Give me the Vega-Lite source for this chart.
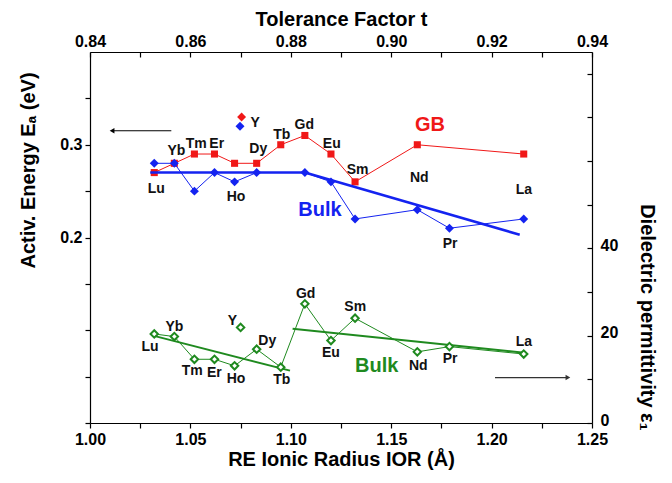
{
  "$schema": "https://vega.github.io/schema/vega-lite/v6.json",
  "autosize": "none",
  "width": 502,
  "height": 371,
  "padding": {"left": 90, "top": 52, "right": 80, "bottom": 60},
  "background": "white",
  "config": {
    "view": {"stroke": null},
    "font": "Liberation Sans",
    "axis": {
      "grid": false,
      "domainColor": "black",
      "domainWidth": 1.2,
      "tickColor": "black",
      "tickWidth": 1.2,
      "tickSize": 5,
      "labelFont": "Liberation Sans",
      "labelFontWeight": "bold",
      "labelFontSize": 16,
      "labelColor": "black",
      "titleFont": "Liberation Sans",
      "titleFontWeight": "bold",
      "titleFontSize": 20,
      "titleColor": "black",
      "labelFlush": false,
      "labelOverlap": false,
      "labelBound": false
    }
  },
  "datasets": {
    "gb": [
      {"re": "Lu", "ior": 1.032, "ea": 0.27},
      {"re": "Yb", "ior": 1.042, "ea": 0.28},
      {"re": "Tm", "ior": 1.052, "ea": 0.29},
      {"re": "Er", "ior": 1.062, "ea": 0.29},
      {"re": "Ho", "ior": 1.072, "ea": 0.28},
      {"re": "Dy", "ior": 1.083, "ea": 0.28},
      {"re": "Tb", "ior": 1.095, "ea": 0.30},
      {"re": "Gd", "ior": 1.107, "ea": 0.31},
      {"re": "Eu", "ior": 1.120, "ea": 0.29},
      {"re": "Sm", "ior": 1.132, "ea": 0.26},
      {"re": "Nd", "ior": 1.163, "ea": 0.30},
      {"re": "La", "ior": 1.216, "ea": 0.29}
    ],
    "bulkEA": [
      {"re": "Lu", "ior": 1.032, "ea": 0.28},
      {"re": "Yb", "ior": 1.042, "ea": 0.28},
      {"re": "Tm", "ior": 1.052, "ea": 0.25},
      {"re": "Er", "ior": 1.062, "ea": 0.27},
      {"re": "Ho", "ior": 1.072, "ea": 0.26},
      {"re": "Dy", "ior": 1.083, "ea": 0.27},
      {"re": "Gd", "ior": 1.107, "ea": 0.27},
      {"re": "Eu", "ior": 1.120, "ea": 0.26},
      {"re": "Sm", "ior": 1.132, "ea": 0.22},
      {"re": "Nd", "ior": 1.163, "ea": 0.23},
      {"re": "Pr", "ior": 1.179, "ea": 0.21},
      {"re": "La", "ior": 1.216, "ea": 0.22}
    ],
    "fitEA": [
      {"seg": 1, "ior": 1.030, "ea": 0.27},
      {"seg": 1, "ior": 1.107, "ea": 0.27},
      {"seg": 2, "ior": 1.107, "ea": 0.27},
      {"seg": 2, "ior": 1.214, "ea": 0.203}
    ],
    "yEA": [
      {"series": "GB", "ior": 1.0755, "ea": 0.33},
      {"series": "Bulk", "ior": 1.0747, "ea": 0.32}
    ],
    "labelsEA": [
      {"label": "Lu", "ior": 1.033, "ea": 0.2526},
      {"label": "Yb", "ior": 1.043, "ea": 0.2928},
      {"label": "Tm", "ior": 1.0529, "ea": 0.3006},
      {"label": "Er", "ior": 1.0631, "ea": 0.3006},
      {"label": "Ho", "ior": 1.0727, "ea": 0.2435},
      {"label": "Dy", "ior": 1.0838, "ea": 0.2953},
      {"label": "Tb", "ior": 1.0955, "ea": 0.3108},
      {"label": "Gd", "ior": 1.1067, "ea": 0.3208},
      {"label": "Eu", "ior": 1.1204, "ea": 0.3011},
      {"label": "Sm", "ior": 1.1333, "ea": 0.273},
      {"label": "Nd", "ior": 1.164, "ea": 0.264},
      {"label": "La", "ior": 1.2161, "ea": 0.2507},
      {"label": "Pr", "ior": 1.1793, "ea": 0.1933},
      {"label": "Y", "ior": 1.0822, "ea": 0.3233}
    ],
    "seriesLabels": [
      {"label": "GB", "series": "GB", "ior": 1.1693, "ea": 0.3208},
      {"label": "Bulk", "series": "Bulk", "ior": 1.1145, "ea": 0.2299}
    ],
    "arrowEA": [
      {"ior": 1.011, "ior2": 1.0405, "ea": 0.3151}
    ],
    "bulkEps": [
      {"re": "Lu", "ior": 1.032, "eps": 20.4},
      {"re": "Yb", "ior": 1.042, "eps": 19.8},
      {"re": "Tm", "ior": 1.052, "eps": 14.6},
      {"re": "Er", "ior": 1.062, "eps": 14.6},
      {"re": "Ho", "ior": 1.072, "eps": 13.1},
      {"re": "Dy", "ior": 1.083, "eps": 16.9},
      {"re": "Tb", "ior": 1.095, "eps": 12.8},
      {"re": "Gd", "ior": 1.107, "eps": 27.3},
      {"re": "Eu", "ior": 1.120, "eps": 18.9},
      {"re": "Sm", "ior": 1.132, "eps": 24.0},
      {"re": "Nd", "ior": 1.163, "eps": 16.3},
      {"re": "Pr", "ior": 1.179, "eps": 17.5},
      {"re": "La", "ior": 1.216, "eps": 15.8}
    ],
    "yEps": [
      {"re": "Y", "ior": 1.075, "eps": 21.9}
    ],
    "fitEps": [
      {"seg": 1, "ior": 1.0324, "eps": 19.9},
      {"seg": 1, "ior": 1.0996, "eps": 12.0},
      {"seg": 2, "ior": 1.1009, "eps": 21.6},
      {"seg": 2, "ior": 1.2161, "eps": 16.1}
    ],
    "labelsEps": [
      {"label": "Lu", "ior": 1.0299, "eps": 17.3},
      {"label": "Yb", "ior": 1.042, "eps": 21.9},
      {"label": "Tm", "ior": 1.0509, "eps": 11.9},
      {"label": "Er", "ior": 1.0619, "eps": 11.4},
      {"label": "Ho", "ior": 1.0727, "eps": 10.1},
      {"label": "Dy", "ior": 1.0883, "eps": 18.9},
      {"label": "Tb", "ior": 1.0955, "eps": 9.85},
      {"label": "Gd", "ior": 1.1074, "eps": 29.6},
      {"label": "Eu", "ior": 1.12, "eps": 16.1},
      {"label": "Sm", "ior": 1.1321, "eps": 26.6},
      {"label": "Y", "ior": 1.0709, "eps": 23.4},
      {"label": "Nd", "ior": 1.1635, "eps": 13.1},
      {"label": "Pr", "ior": 1.1793, "eps": 14.6},
      {"label": "La", "ior": 1.2161, "eps": 18.6}
    ],
    "bulkLabelEps": [
      {"label": "Bulk", "ior": 1.1428, "eps": 13.1}
    ],
    "arrowEps": [
      {"ior": 1.2017, "ior2": 1.238, "eps": 10.4}
    ],
    "tol": [
      {"t": 0.84},
      {"t": 0.94}
    ]
  },
  "layer": [
    {
      "encoding": {
        "x": {
          "field": "ior", "type": "quantitative",
          "scale": {"domain": [1.0, 1.25], "nice": false, "zero": false},
          "axis": {
            "orient": "bottom",
            "title": "RE Ionic Radius IOR (Å)",
            "values": [1.0, 1.025, 1.05, 1.075, 1.1, 1.125, 1.15, 1.175, 1.2, 1.225, 1.25],
            "labelExpr": "abs(datum.value*20 - round(datum.value*20)) < 0.001 ? format(datum.value, '.2f') : ''",
            "labelPadding": 3,
            "titlePadding": 2
          }
        },
        "y": {
          "field": "ea", "type": "quantitative",
          "scale": {"domain": [0, 0.4], "nice": false, "zero": false},
          "axis": {
            "orient": "left",
            "title": "Activ. Energy Eₐ (eV)",
            "values": [0, 0.05, 0.1, 0.15, 0.2, 0.25, 0.3, 0.35],
            "labelExpr": "abs(datum.value-0.2) < 0.001 || abs(datum.value-0.3) < 0.001 ? format(datum.value, '.1f') : ''",
            "labelPadding": 3,
            "titleX": -62,
            "titleY": 118,
            "titleAlign": "center",
            "titleBaseline": "middle"
          }
        }
      },
      "layer": [
        {
          "data": {"name": "gb"},
          "mark": {"type": "line", "color": "#f01818", "strokeWidth": 1}
        },
        {
          "data": {"name": "gb"},
          "mark": {"type": "point", "shape": "square", "filled": true, "color": "#f01818", "size": 50, "opacity": 1}
        },
        {
          "data": {"name": "bulkEA"},
          "mark": {"type": "line", "color": "#1423f0", "strokeWidth": 1}
        },
        {
          "data": {"name": "fitEA"},
          "mark": {"type": "line", "color": "#1423f0", "strokeWidth": 2.5},
          "encoding": {"detail": {"field": "seg", "type": "nominal"}}
        },
        {
          "data": {"name": "bulkEA"},
          "mark": {"type": "point", "shape": "diamond", "filled": true, "color": "#1423f0", "size": 80, "opacity": 1}
        },
        {
          "data": {"name": "yEA"},
          "mark": {"type": "point", "shape": "diamond", "filled": true, "size": 80, "opacity": 1},
          "encoding": {
            "color": {"field": "series", "type": "nominal", "scale": {"domain": ["GB", "Bulk"], "range": ["#f01818", "#1423f0"]}, "legend": null}
          }
        },
        {
          "data": {"name": "labelsEA"},
          "mark": {"type": "text", "font": "Liberation Sans", "fontWeight": "bold", "fontSize": 14, "color": "#111111", "align": "center", "baseline": "middle"},
          "encoding": {"text": {"field": "label"}}
        },
        {
          "data": {"name": "seriesLabels"},
          "mark": {"type": "text", "font": "Liberation Sans", "fontWeight": "bold", "fontSize": 20, "align": "center", "baseline": "middle"},
          "encoding": {
            "text": {"field": "label"},
            "color": {"field": "series", "type": "nominal", "scale": {"domain": ["GB", "Bulk"], "range": ["#f01818", "#1423f0"]}, "legend": null}
          }
        },
        {
          "data": {"name": "arrowEA"},
          "mark": {"type": "rule", "color": "black", "strokeWidth": 1.2},
          "encoding": {"x2": {"field": "ior2"}}
        },
        {
          "data": {"name": "arrowEA"},
          "mark": {"type": "point", "shape": "triangle-left", "filled": true, "color": "black", "size": 30, "opacity": 1}
        }
      ]
    },
    {
      "encoding": {
        "x": {
          "field": "ior", "type": "quantitative",
          "scale": {"domain": [1.0, 1.25], "nice": false, "zero": false},
          "axis": null
        },
        "y": {
          "field": "eps", "type": "quantitative",
          "scale": {"domain": [0, 85], "nice": false, "zero": false},
          "axis": {
            "orient": "right",
            "title": "Dielectric permittivity ε₁",
            "values": [0, 10, 20, 30, 40, 50, 60, 70, 80],
            "labelExpr": "datum.value == 0 || datum.value == 20 || datum.value == 40 ? datum.label : ''",
            "tickSize": -5,
            "labelPadding": 13,
            "labelOffset": -3,
            "titleX": 54,
            "titleY": 265,
            "titleAlign": "center",
            "titleBaseline": "middle",
            "titleAngle": 90
          }
        }
      },
      "layer": [
        {
          "data": {"name": "bulkEps"},
          "mark": {"type": "line", "color": "#1f8a1f", "strokeWidth": 1}
        },
        {
          "data": {"name": "fitEps"},
          "mark": {"type": "line", "color": "#1f8a1f", "strokeWidth": 2},
          "encoding": {"detail": {"field": "seg", "type": "nominal"}}
        },
        {
          "data": {"name": "bulkEps"},
          "mark": {"type": "point", "shape": "diamond", "filled": false, "fill": "white", "fillOpacity": 1, "color": "#1f8a1f", "strokeWidth": 2, "size": 55, "opacity": 1}
        },
        {
          "data": {"name": "yEps"},
          "mark": {"type": "point", "shape": "diamond", "filled": false, "fill": "white", "fillOpacity": 1, "color": "#1f8a1f", "strokeWidth": 2, "size": 55, "opacity": 1}
        },
        {
          "data": {"name": "labelsEps"},
          "mark": {"type": "text", "font": "Liberation Sans", "fontWeight": "bold", "fontSize": 14, "color": "#111111", "align": "center", "baseline": "middle"},
          "encoding": {"text": {"field": "label"}}
        },
        {
          "data": {"name": "bulkLabelEps"},
          "mark": {"type": "text", "font": "Liberation Sans", "fontWeight": "bold", "fontSize": 20, "color": "#1f8a1f", "align": "center", "baseline": "middle"},
          "encoding": {"text": {"field": "label"}}
        },
        {
          "data": {"name": "arrowEps"},
          "mark": {"type": "rule", "color": "#333333", "strokeWidth": 1.2},
          "encoding": {"x2": {"field": "ior2"}}
        },
        {
          "data": {"name": "arrowEps"},
          "mark": {"type": "point", "shape": "triangle-right", "filled": true, "color": "#333333", "size": 30, "opacity": 1},
          "encoding": {"x": {"field": "ior2", "type": "quantitative"}}
        }
      ]
    },
    {
      "data": {"name": "tol"},
      "mark": {"type": "rule", "opacity": 0},
      "encoding": {
        "x": {
          "field": "t", "type": "quantitative",
          "scale": {"domain": [0.84, 0.94], "nice": false, "zero": false},
          "axis": {
            "orient": "top",
            "title": "Tolerance Factor t",
            "values": [0.84, 0.85, 0.86, 0.87, 0.88, 0.89, 0.9, 0.91, 0.92, 0.93, 0.94],
            "labelExpr": "abs(datum.value*50 - round(datum.value*50)) < 0.001 ? format(datum.value, '.2f') : ''",
            "tickSize": -5,
            "labelPadding": 8,
            "titlePadding": 4
          }
        }
      }
    }
  ],
  "resolve": {"scale": {"x": "independent", "y": "independent"}}
}
